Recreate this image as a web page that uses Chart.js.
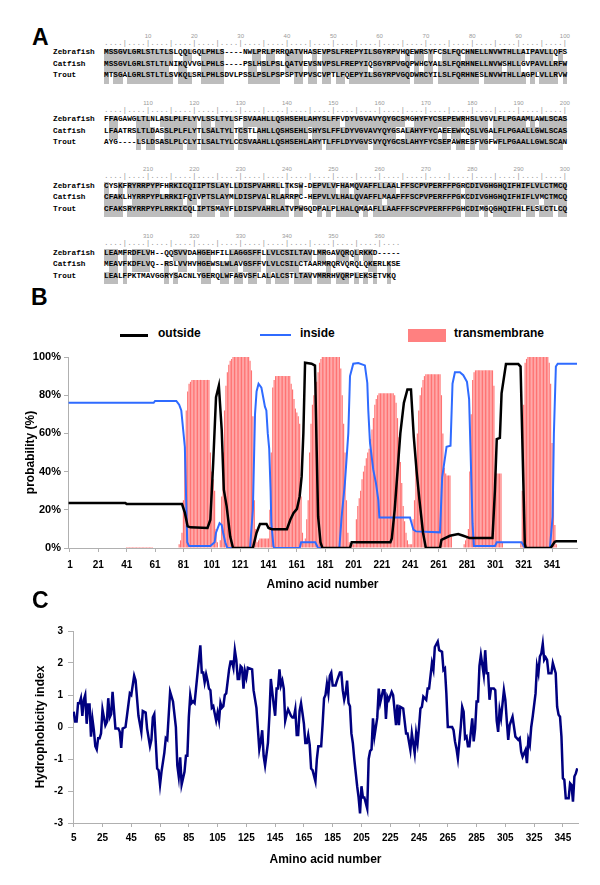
<!DOCTYPE html>
<html>
<head>
<meta charset="utf-8">
<title>Topology and hydrophobicity</title>
<script src="https://cdn.jsdelivr.net/npm/chart.js@4.4.1/dist/chart.umd.min.js"></script>
<style>
  html, body { margin: 0; background: #fff; }
  #page { position: relative; width: 600px; height: 885px; overflow: hidden; font-family: "Liberation Sans", Arial, sans-serif; }
  .letter { position: absolute; font-size: 23px; font-weight: bold; line-height: 23px; color: #000; }
  .aln { position: absolute; font-family: "Liberation Mono", "Courier New", monospace; font-size: 7.72px; line-height: 11.5px; white-space: pre; color: #000; font-weight: bold; }
  .ruler { color: #9a9a9a; font-weight: normal; }
  .num { position: absolute; width: 30px; text-align: center; font-size: 6px; line-height: 10px; color: #9a9a9a; }
  .shade { position: absolute; background: #bdbdbd; }
  .lg-text { position: absolute; font-size: 12px; font-weight: bold; line-height: 14px; color: #000; }
  .lg-mark { position: absolute; }
  canvas { position: absolute; left: 0; }
</style>
</head>
<body>
<div id="page">
  <div class="letter" style="left:32px;top:26px">A</div>
  <div id="shades"></div>
  <div id="texts"></div>

  <div class="letter" style="left:31px;top:286px">B</div>
  <div class="lg-mark" style="left:120px;top:334px;width:28px;height:2.5px;background:#000"></div>
  <div class="lg-text" style="left:158px;top:326px">outside</div>
  <div class="lg-mark" style="left:260px;top:334px;width:31px;height:2px;background:#2f6bff"></div>
  <div class="lg-text" style="left:300px;top:326px">inside</div>
  <div class="lg-mark" style="left:408px;top:329px;width:38px;height:13px;background:#ff8080"></div>
  <div class="lg-text" style="left:454px;top:326px">transmembrane</div>
  <canvas id="topology" width="600" height="260" style="top:340px"></canvas>

  <div class="letter" style="left:32px;top:589px">C</div>
  <canvas id="hydro" width="600" height="270" style="top:615px"></canvas>
</div>

<script>
// ---------- Panel A: alignment ----------
var blockStarts = [1, 101, 201, 301];
var speciesNames = ['Zebrafish', 'Catfish', 'Trout'];
var zebrafishSeq = [
  'MSSGVLGRLSTLTLSLQQLGQLPHLS----NWLPRLPRRQATVHASEVPSLFREPYILSGYRPVHQEWRSYFCSLFQCHNELLNVWTHLLAIPAVLLQFS',
  'FFAGAWGLTLNLASLPLFLYVLSSLTYLSFSVAAHLLQSHSEHLAHYSLFFVDYVGVAVYQYGCSMGHYFYCSEPEWRHSLVGVLFLPGAAMLAWLSCAS',
  'CYSKFRYRRPYPFHRKICQIIPTSLAYLLDISPVAHRLLTKSW-DEPVLVFHAMQVAFFLLAALFFSCPVPERFFPGRCDIVGHGHQIFHIFLVLCTMCQ',
  'LEAMFRDFLVH--QQSVVDAHGEHFILLAGGSFFLLVLCSILTAVLMRGAVQRQLRKKD-----'
];
var catfishSeq = [
  'MSSGVLGRLSTLTLNIKQVVGLPHLS----PSLHSLPSLQATVEVSNVPSLFREPYIQSGYRPVGQPWHCYALSLFQRHNELLNVWSHLLGVPAVLLRFW',
  'LFAATRSLTLDASSLPLFLYTLSALTYLTCSTLAHLLQSHSEHLSHYSLFFLDYVGVAVYQYGSALAHYFYCAEEEWKQSLVGALFLPGAALLGWLSCAS',
  'CFAKLHYRRPYPLRRKIFQIVPTSLAYMLDISPVALRLARRPC-HEPVLVLHALQVAFFLMAAFFFSCPVPERFFPGKCDIVGHGHQIFHIFLVMCTMCQ',
  'MEAVFKDFLVQ--RSLVVHVHGEWSLWLAVGSFFVLVLCSILCTAARMRQRVQRQLQKERLKSE'
];
var troutSeq = [
  'MTSGALGRLSTLTLSVKQLSRLPHLSDVLPSSLPSLPSPSPTVPVSCVPTLFQEPYILSGYRPVGQDWRCYILSLFQRHNESLNVWTHLLAGPLVLLRVW',
  'AYG----LSLDSASLPLCLYILSALTYLCCSVAAHLLQSHSEHLAHYTLFFLDYVGVSVYQYGCSLAHYFYCSEPAWRESFVGFWFLPGAALLGWLSCAN',
  'CFAKSRYRRPYPLRRKICQLIPTSMAYFLDISPVAHRLATVPWGQDPALPLHALQMAAFLLAAFFFSCPVPERFFPGHCDIMGQGHQIFHLFLSLCTLCQ',
  'LEALFPKTMAVGGRYSACNLYGERQLWFAGVSFLALALCSTLTAVVMRRHVQRPLEKSETVKQ'
];

var CHAR_W = 4.632;
var SEQ_LEFT = 104;
var NAME_LEFT = 53;
var BLOCK_STEP = 66.7;

var shades = document.getElementById('shades');
var texts = document.getElementById('texts');

function place(parent, cls, text, left, top) {
  var d = document.createElement('div');
  d.className = cls;
  d.textContent = text;
  d.style.left = left + 'px';
  d.style.top = top + 'px';
  parent.appendChild(d);
  return d;
}

blockStarts.forEach(function (start, b) {
  var numY = 36 + BLOCK_STEP * b;
  var rows = [zebrafishSeq[b], catfishSeq[b], troutSeq[b]];
  var len = Math.max(rows[0].length, rows[1].length, rows[2].length);

  // position numbers and dotted ruler
  for (var c = 10; c <= len; c += 10) {
    place(texts, 'num', String(start - 1 + c), SEQ_LEFT + (c - 0.5) * CHAR_W - 15, numY - 5);
  }
  var ruler = '';
  for (var k = 1; k <= len; k++) ruler += (k % 5 === 0) ? '|' : '.';
  place(texts, 'aln ruler', ruler, SEQ_LEFT, numY + 7.3 - 5.25);

  rows.forEach(function (seq, i) {
    var cy = numY + 16.7 + 11.5 * i;
    // grey boxes where a residue is shared with another species
    var runStart = -1;
    for (var p = 0; p <= seq.length; p++) {
      var ch = seq.charAt(p);
      var on = p < seq.length && ch !== '-' && rows.some(function (o, j) { return j !== i && o.charAt(p) === ch; });
      if (on && runStart < 0) runStart = p;
      if (!on && runStart >= 0) {
        var s = document.createElement('div');
        s.className = 'shade';
        s.style.left = (SEQ_LEFT + runStart * CHAR_W) + 'px';
        s.style.width = ((p - runStart) * CHAR_W) + 'px';
        s.style.top = (cy - 3.7) + 'px';
        s.style.height = '11.5px';
        shades.appendChild(s);
        runStart = -1;
      }
    }
    place(texts, 'aln', speciesNames[i], NAME_LEFT, cy - 5.25);
    place(texts, 'aln', seq, SEQ_LEFT, cy - 5.25);
  });
});

// ---------- Panel B: membrane topology ----------
// transmembrane probability (%) per residue 1..358
var tmProb = [
  0,0,0,0,0,0,0,0,0,0, 0,0,0,0,0,0,0,0,0,0,
  0,0,0,0,0,0,0,0,0,0, 0,0,0,0,0,0,0,0,0,0,
  0.5,0.5,0.5,0.5,0.5,0.5,0.5,0.5,0.5,0.5, 0.5,0.5,0.5,0.5,0.5,0.5,0.5,0.5,0.5,0,
  0,0,0,0,0,0,0,0,0,0, 0,0,0,0,0,0,0,2,4,8,
  25,53,72,82,86,87,88,88,88,88, 88,88,88,88,88,88,88,88,88,50,
  40,36,30,10,3,0,4,27,50,72, 85,92,96,98,99,100,100,100,100,100,
  100,100,100,100,100,100,100,98,93,69, 25,10,3,4,5,5,5,5,5,5,
  5,20,50,84,88,90,90,90,90,90, 90,90,90,90,90,90,86,83,78,73,
  71,69,65,27,8,3,5,15,25,50, 65,75,80,84,87,92,97,99,100,100,
  100,100,100,100,100,100,100,100,100,100, 100,94,80,65,50,25,8,3,2,2,
  2,2,15,22,26,30,36,40,43,47, 50,52,57,62,68,75,78,80,81,81,
  81,81,81,81,81,81,81,81,81,80, 76,68,58,45,34,22,14,8,4,2,
  2,2,15,25,42,60,72,80,84,88, 90,91,91,91,91,91,91,91,91,91,
  91,91,80,60,42,39,38,38,38,6, 0,0,0,0,0,0,0,0,2,4,
  6,10,40,70,88,92,93,93,93,93, 93,93,93,93,93,93,93,93,93,85,
  40,39,39,39,39,3,0,0,0,0, 0,0,0,0,0,0,0,0,3,30,
  75,97,99,100,100,100,100,100,100,100, 100,100,100,100,100,100,100,100,97,86,
  55,30,12,2,0,0,0,0,0,0, 0,0,0,0,0,0,0,0
];
var outRes = [0,40,41,80,82,84,86,98,100,102, 104,106,108,109.5,111.5,114,116,130,132.6,135,
  139.6,141,143.5,154,156.4,158.7,161.1,163,164.4,165.6, 166.8,171.4,173.8,175,176,177.7,179,198.5,199.7,227,
  228,230,234,236.5,239,241.5,243.5,245.5,247.5,250, 252,262,263,269,274.8,278.4,283,299,300.7,302,
  304.2,305.4,308.5,317.2,318.8,320.2,321.8,322.5,340,342.9, 344,358.6];
var outVal = [23.6,23.6,23,23,18.5,11.3,10.8,10.5,14.8,44.5, 79,85,62,30.5,21.8,6,0,0,8,12.6,
  12.6,10.5,9.8,9.8,14.8,18.3,20.5,27,37.5,60, 97,96.5,95.5,51,16.5,3,0,0,3,3,
  5,20,60,76,83,83,58,40,25,8, 0,0,4.3,6.4,7.3,6.4,5.2,5.2,30,57,
  57.6,81,96.3,96.3,95,51.5,2,0,0,3.2, 3.5,3.5];
var inRes = [0,60,61,76,78,79.5,82,83.7,85,100, 103,104,106.5,108,109,110.5,112,128,130,131.5,
  132.6,134,136,137.5,138.5,139.5,140.5,141.5,142.5,143, 144.5,145,163,164,174,176,191,192.6,194.9,197.3,
  198.5,200.8,204.3,209,210.7,211.4,212.6,214.9,216.8,218.5, 219.2,240.8,243.2,245,262,263.5,266.6,269.4,270.8,272.5,
  276,278.4,281,282.5,283.5,284.9,285.9,300.7,302,319.5, 321.9,339.5,341.4,342.3,343.7,345,358.6];
var inVal = [76,76,77,77,75,72,53,3,1,1, 3,8,13,12,8,3,0,0,20,70,
  82,86,84,78,74,72,60,52,30,13, 1,0,0,3,3,0,0,16.5,34,60,
  90,96.5,96.8,95.6,86.4,72,55,41,34,25, 16,16,9.6,8.7,8.2,37,53,53.5,86,92,
  92,90.5,87,78,51,13,1,1,3,3, 0,0,16.5,60,95,96.5,96.5];
var bTicks = [1,21,41,61,81,101,121,141,161,181,201,221,241,261,281,301,321,341];

// ---------- Panel C: hydrophobicity ----------
var hydroRes = [
  5,6,7,8,9,10,11,12,13,14,
  15,16,17,18,19,20,21,22,23,24,
  25,27,28,29,30,31,32,34,36,37,
  38,39,41,42,44,45,47,48,50,52,
  53,55,56,58,59,60,61,63,64,65,
  66,68,69,70,72,74,76,77,78,79,
  80,81,82,83,84,85,86,87,88,89,
  90,93,94,95,96,97,98,99,100,101,
  102,104,105,106,107,108,109,110,111,113,
  114,115,116,117,118,119,120,121,122,123,
  124,125,126,129,130,132,134,135,136,137,
  138,140,141,142,144,145,146,147,148,149,
  150,151,152,153,154,156,157,158,159,160,
  161,162,163,164,165,166,167,168,169,170,
  171,173,174,175,177,178,179,180,181,182,
  183,184,185,187,188,190,191,192,193,194,
  195,196,197,198,199,200,202,203,204,205,
  206,207,209,210,211,212,213,214,216,217,
  218,220,221,222,223,224,226,227,229,230,
  231,232,234,236,237,239,240,242,243,244,
  245,246,247,248,250,251,252,254,255,256,
  258,259,261,262,263,264,265,268,269,270,
  271,272,274,275,276,277,278,279,280,282,
  283,284,285,286,287,288,290,291,292,293,
  294,295,297,298,299,300,301,302,304,305,
  306,307,308,310,312,314,315,316,317,319,
  320,321,322,323,324,326,327,328,329,330,
  331,332,333,334,335,337,338,340,341,342,
  343,344,345,346,347,349,350,351,352,353,
  354,355
];
var hydroVal = [
  0.48,0.17,0.17,0.74,0.74,0.9,0.35,0.85,1.0,0.1,
  0.7,0.7,-0.3,0.25,-0.1,-0.6,-0.7,-0.35,-0.35,-0.2,
  0.55,0.05,0.15,0.9,0.3,0.4,1.1,-0.05,-0.05,-0.15,
  -0.65,-0.05,0.0,0.35,1.05,1.0,1.6,1.45,0.35,-0.15,
  0.5,0.45,-0.05,-0.6,-0.4,0.3,0.4,-1.3,-1.35,-1.8,
  -1.4,-0.8,-0.35,-0.4,1.1,0.8,0.0,-1.2,-1.55,-0.95,
  -1.8,-1.6,-1.4,-0.9,-0.9,0.3,1.0,0.75,0.8,0.75,
  1.2,2.55,1.7,1.7,1.4,1.65,1.45,1.2,1.15,0.6,
  0.65,0.2,0.45,0.2,0.75,0.6,0.65,1.0,1.05,1.8,
  2.05,2.05,1.85,2.4,2.1,1.5,1.5,1.9,1.85,1.2,
  1.75,1.55,1.85,1.8,1.15,0.6,-0.7,-0.45,-0.1,-0.9,
  -1.2,-0.5,0.35,1.5,0.7,0.35,1.2,1.2,1.8,1.3,
  1.45,1.2,0.2,0.4,0.55,0.35,0.3,0.3,0.55,-0.25,
  -0.25,0.5,0.74,0.43,0.1,-0.5,-0.5,-0.25,-0.55,-1.3,
  -1.35,-1.7,-1.0,-0.6,-0.6,0.1,0.9,1.0,1.35,1.05,
  1.6,1.7,1.3,1.3,1.45,1.7,1.7,1.15,0.85,1.05,
  1.45,0.75,0.65,-0.2,-0.5,-1.0,-1.85,-2.2,-2.7,-1.85,
  -2.2,-2.2,-2.55,-1.0,-0.75,-0.7,0.27,-0.3,0.3,1.2,
  0.75,1.15,1.15,0.25,0.95,0.85,1.1,1.0,0.06,0.7,
  0.06,0.63,0.58,-0.2,-0.2,-0.72,-0.2,-0.82,-0.2,-0.5,
  0.0,0.58,0.63,0.95,0.85,1.2,1.2,2.0,1.8,2.5,
  2.67,2.4,2.35,1.78,1.83,1.05,0.0,0.0,-0.1,-0.45,
  -0.67,-0.98,0.0,0.63,0.48,-0.35,-0.3,-0.6,-0.6,0.27,
  -0.45,-0.05,0.8,0.8,1.9,2.25,1.63,2.4,1.68,1.68,
  0.85,1.2,1.2,1.15,0.2,-0.15,0.53,0.27,1.15,0.85,
  0.2,-0.4,0.06,0.32,-0.3,-0.4,-0.35,-0.77,-0.93,-0.72,
  -1.13,-0.4,-0.56,0.0,0.32,1.05,1.9,1.68,2.2,2.3,
  2.6,2.1,2.18,2.1,1.68,1.68,2.0,1.68,0.63,0.38,
  0.32,-0.3,-1.6,-1.65,-2.23,-2.23,-1.76,-1.81,-2.33,-1.55,
  -1.45,-1.29
];
var cTicks = [5,25,45,65,85,105,125,145,165,185,205,225,245,265,285,305,325,345];

Chart.defaults.font.family = '"Liberation Sans", Arial, sans-serif';
Chart.defaults.color = '#000';

var AXIS_GREY = '#b0b0b0';

function pairs(xs, ys) {
  return xs.map(function (x, i) { return { x: x, y: ys[i] }; });
}

var tmBars = tmProb.map(function (v, i) { return { x: i + 1, y: v }; });

new Chart(document.getElementById('topology'), {
  type: 'bar',
  data: {
    datasets: [
      { type: 'line', label: 'outside', data: pairs(outRes, outVal), borderColor: '#000', borderWidth: 2.5,
        pointRadius: 0, tension: 0, order: 1 },
      { type: 'line', label: 'inside', data: pairs(inRes, inVal), borderColor: '#2f6bff', borderWidth: 2,
        pointRadius: 0, tension: 0, order: 2 },
      { label: 'transmembrane', data: tmBars, backgroundColor: '#ff7373', borderWidth: 0,
        barPercentage: 0.82, categoryPercentage: 1, order: 3 }
    ]
  },
  options: {
    responsive: false,
    animation: false,
    devicePixelRatio: 1,
    layout: { padding: { left: 0, right: 23, top: 17, bottom: 0 } },
    plugins: { legend: { display: false }, tooltip: { enabled: false } },
    scales: {
      x: {
        type: 'linear', min: -0.4, max: 358.6, offset: false,
        grid: { drawOnChartArea: false, drawTicks: true, tickLength: 4, color: AXIS_GREY, offset: false },
        border: { color: AXIS_GREY },
        afterBuildTicks: function (s) { s.ticks = bTicks.map(function (v) { return { value: v }; }); },
        afterFit: function (s) { s.height = 52; },
        ticks: { autoSkip: false, maxRotation: 0, padding: 7, font: { size: 10, weight: 'bold' } },
        title: { display: true, text: 'Amino acid number', font: { size: 12, weight: 'bold' }, padding: { top: 0, bottom: 8 } }
      },
      y: {
        min: 0, max: 100,
        grid: { drawOnChartArea: false, drawTicks: true, tickLength: 4, color: AXIS_GREY },
        border: { color: AXIS_GREY },
        afterFit: function (s) { s.width = 68; },
        ticks: { stepSize: 20, padding: 3, font: { size: 11, weight: 'bold' },
                 callback: function (v) { return v + '%'; } },
        title: { display: true, text: 'probability (%)', font: { size: 12, weight: 'bold' }, padding: { top: 23, bottom: 0 } }
      }
    }
  }
});

new Chart(document.getElementById('hydro'), {
  type: 'line',
  data: {
    datasets: [{
      label: 'Hydrophobicity', data: pairs(hydroRes, hydroVal),
      borderColor: '#000080', borderWidth: 2.5, pointRadius: 0, tension: 0
    }]
  },
  options: {
    responsive: false,
    animation: false,
    devicePixelRatio: 1,
    layout: { padding: { left: 0, right: 22, top: 16, bottom: 0 } },
    plugins: { legend: { display: false }, tooltip: { enabled: false } },
    scales: {
      x: {
        type: 'linear', min: 4.5, max: 355.5,
        grid: { drawOnChartArea: false, drawTicks: true, tickLength: 4, color: AXIS_GREY },
        border: { color: AXIS_GREY },
        afterBuildTicks: function (s) { s.ticks = cTicks.map(function (v) { return { value: v }; }); },
        afterFit: function (s) { s.height = 62; },
        ticks: { autoSkip: false, maxRotation: 0, padding: 5, font: { size: 10, weight: 'bold' } },
        title: { display: true, text: 'Amino acid number', font: { size: 12, weight: 'bold' }, padding: { top: 0, bottom: 18 } }
      },
      y: {
        min: -3, max: 3,
        grid: { drawOnChartArea: false, drawTicks: true, tickLength: 5, color: AXIS_GREY },
        border: { color: AXIS_GREY },
        afterFit: function (s) { s.width = 73; },
        ticks: { stepSize: 1, padding: 5, font: { size: 10, weight: 'bold' } },
        title: { display: true, text: 'Hydrophobicity index', font: { size: 12, weight: 'bold' }, padding: { top: 33, bottom: 0 } }
      }
    }
  }
});
</script>
</body>
</html>
